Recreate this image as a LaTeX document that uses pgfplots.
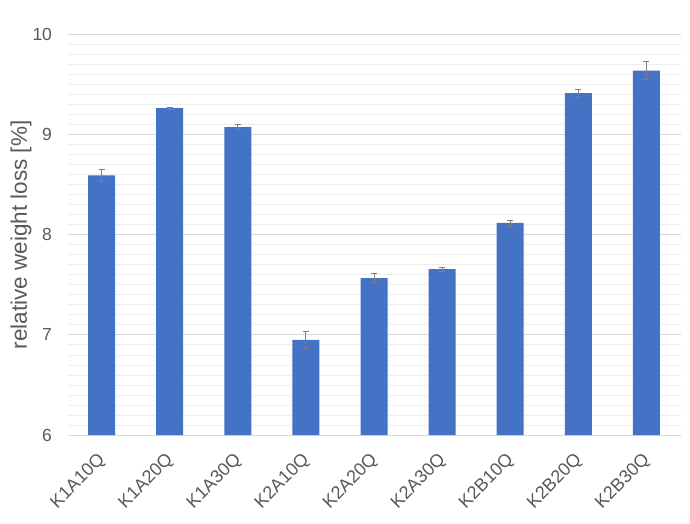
\documentclass[border=0pt]{standalone}
\usepackage{pgfplots}
\pgfplotsset{compat=1.18}
\usepackage{fontspec}
\setmainfont{Liberation Sans}
\definecolor{barblue}{HTML}{4472C4}
\definecolor{txtgray}{HTML}{595959}
\definecolor{majgrid}{HTML}{D9D9D9}
\definecolor{mingrid}{HTML}{EEEEEE}
\definecolor{errgray}{HTML}{7F7F7F}
\pgfplotstableread{
idx val err
0 8.59  0.06
1 9.26  0.01
2 9.07  0.025
3 6.95  0.085
4 7.565 0.045
5 7.655 0.02
6 8.115 0.03
7 9.41  0.04
8 9.635 0.087
}\losstable
\begin{document}
\begin{tikzpicture}
\useasboundingbox (0,0) rectangle (690pt,523pt);
\begin{axis}[
  at={(67.5pt,88pt)}, anchor=south west,
  scale only axis,
  width=613pt, height=401pt,
  xmin=-0.5, xmax=8.5,
  ymin=6, ymax=10,
  ytick={6,7,8,9,10},
  minor y tick num=9,
  xtick=data,
  xticklabels={K1A10Q,K1A20Q,K1A30Q,K2A10Q,K2A20Q,K2A30Q,K2B10Q,K2B20Q,K2B30Q},
  major tick length=0pt, minor tick length=0pt,
  axis line style={draw=none},
  ymajorgrids, yminorgrids,
  major grid style={majgrid, line width=0.8pt},
  minor grid style={mingrid, line width=0.6pt},
  /pgf/number format/assume math mode=true,
  tick label style={font=\fontsize{17.5}{17.5}\selectfont, text=txtgray},
  yticklabel style={xshift=-12pt},
  xticklabel style={font=\fontsize{18}{18}\selectfont, xshift=-5pt, yshift=-12pt, rotate=45, anchor=north east},
  ylabel={relative weight loss [\%]},
  ylabel style={font=\fontsize{22.5}{22.5}\selectfont, text=txtgray, at={(-46.5pt,200pt)}, anchor=center},
  clip=true,
]
\addplot[ybar, bar width=27pt, fill=barblue, draw=none,
  error bars/.cd, y dir=both, y explicit,
  error bar style={errgray, line width=0.8pt},
  error mark options={errgray, rotate=90, mark size=3pt, line width=0.8pt}]
  table[x=idx, y=val, y error=err] {\losstable};
\end{axis}
\end{tikzpicture}
\end{document}
